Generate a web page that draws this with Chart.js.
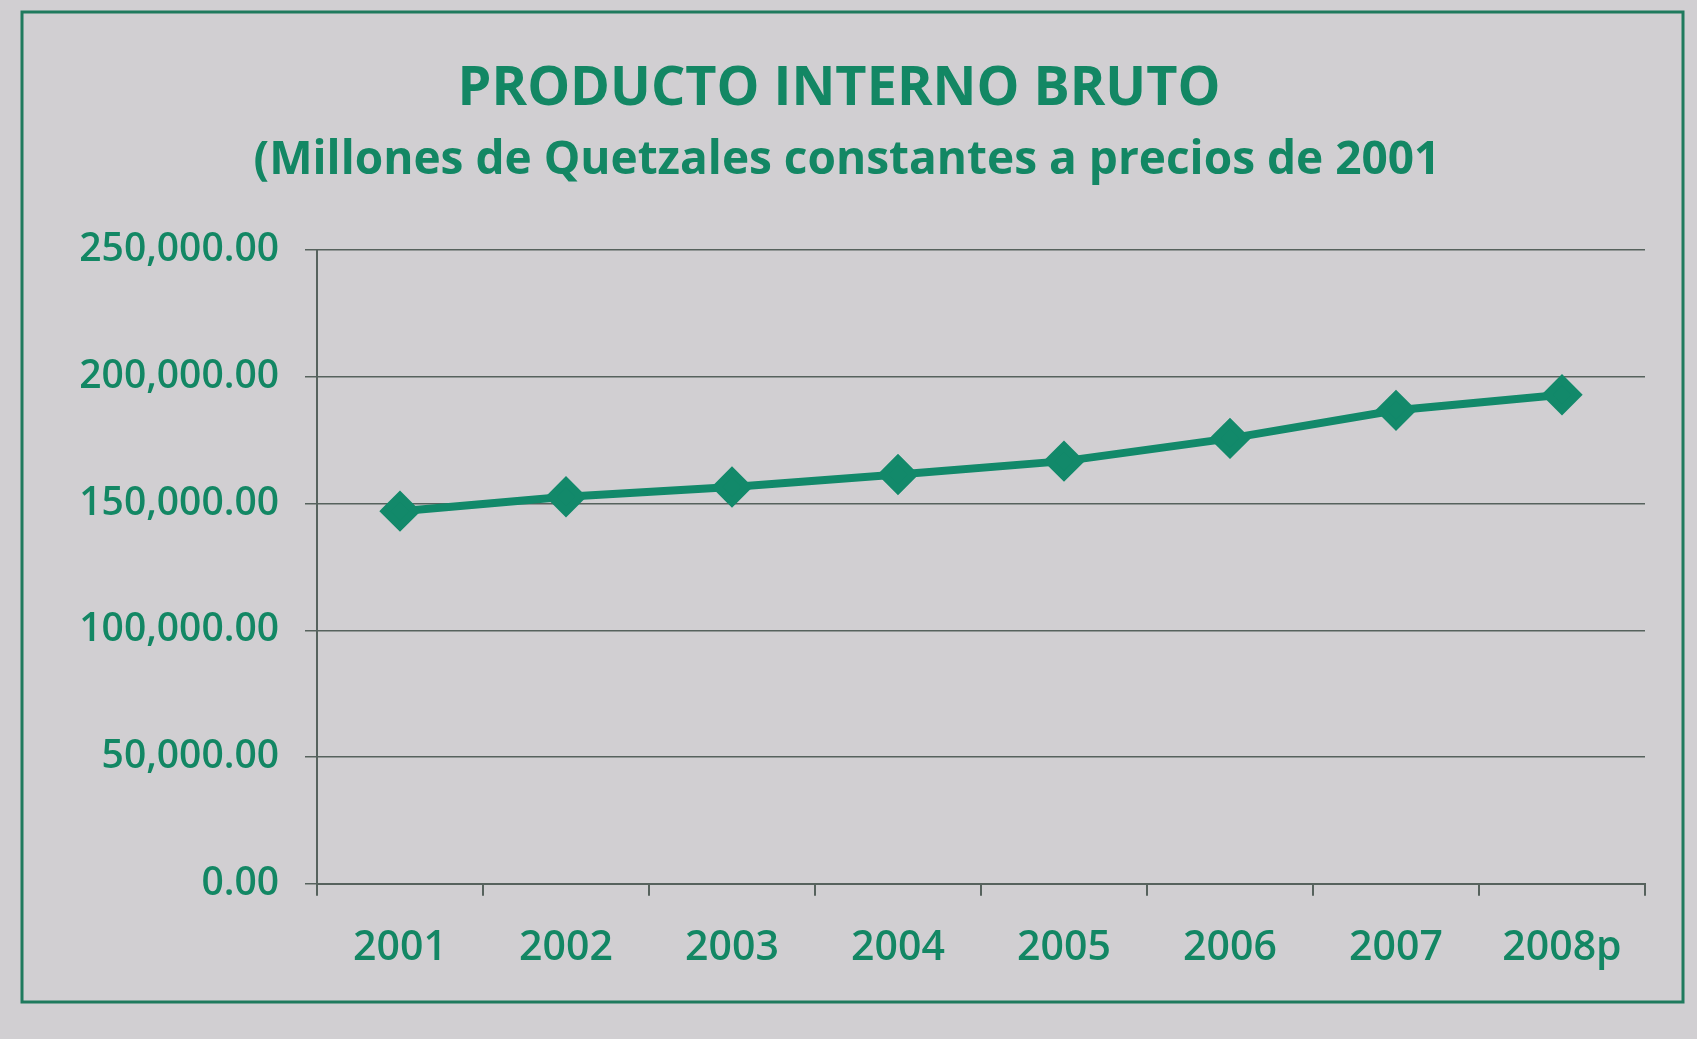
<!DOCTYPE html>
<html>
<head>
<meta charset="utf-8">
<script src="https://cdn.jsdelivr.net/npm/chart.js@4.4.1/dist/chart.umd.min.js"></script>
<style>
  html, body { margin: 0; padding: 0; background: #d1cfd2; }
  #wrap { width: 1697px; height: 1039px; position: relative; }
</style>
</head>
<body>
<div id="wrap"><canvas id="pib"></canvas></div>
<script>
// Datos
const years = ['2001', '2002', '2003', '2004', '2005', '2006', '2007', '2008p'];
const pib = [146977.8, 152660.9, 156524.5, 161457.5, 166722.1, 175691.4, 186765.9, 192894.9];
const yTicks = [0, 50000, 100000, 150000, 200000, 250000];

const green = '#12896a';
const textGreen = '#138764';
const gridGray = '#56625d';

// fondo, marco exterior y títulos
const framePlugin = {
    id: 'frame',
    beforeDraw(chart) {
        const ctx = chart.ctx;
        ctx.save();
        ctx.fillStyle = '#d1cfd2';
        ctx.fillRect(0, 0, chart.width, chart.height);
        ctx.strokeStyle = '#1f7a5d';
        ctx.lineWidth = 3;
        ctx.strokeRect(22, 12, 1661, 990);
        ctx.fillStyle = textGreen;
        ctx.textAlign = 'center';
        ctx.textBaseline = 'middle';
        ctx.font = 'bold 54px "Open Sans"';
        ctx.fillText('PRODUCTO INTERNO BRUTO', 839, 90);
        ctx.font = 'bold 46px "Open Sans"';
        ctx.fillText('(Millones de Quetzales constantes a precios de 2001', 847, 161);
        ctx.restore();
    }
};

new Chart(document.getElementById('pib'), {
    type: 'line',
    data: {
        labels: years,
        datasets: [{
            label: 'PIB',
            data: pib,
            borderColor: green,
            backgroundColor: green,
            borderWidth: 8,
            tension: 0,
            pointStyle: 'rectRot',
            pointRadius: 15,
            pointHoverRadius: 15,
            pointBackgroundColor: green,
            pointBorderColor: green,
            fill: false
        }]
    },
    options: {
        responsive: true,
        maintainAspectRatio: false,
        animation: false,
        layout: { padding: { top: 250, right: 52, bottom: 38, left: 0 } },
        plugins: {
            legend: { display: false },
            tooltip: { enabled: false }
        },
        scales: {
            x: {
                offset: true,
                grid: {
                    offset: true,
                    drawOnChartArea: false,
                    drawTicks: true,
                    tickLength: 12,
                    color: gridGray,
                    lineWidth: 2
                },
                border: { display: true, color: gridGray, width: 2 },
                ticks: {
                    color: textGreen,
                    font: { family: 'Open Sans', size: 41, weight: '600' },
                    padding: 28,
                    maxRotation: 0
                }
            },
            y: {
                min: 0,
                max: 250000,
                afterFit(scale) { scale.width = 317; },
                afterBuildTicks(scale) { scale.ticks = yTicks.map(v => ({ value: v })); },
                grid: {
                    color: gridGray,
                    lineWidth: 1.5,
                    tickLength: 12
                },
                border: { display: true, color: gridGray, width: 2 },
                ticks: {
                    color: textGreen,
                    font: { family: 'Open Sans', size: 39, weight: '600' },
                    padding: 26,
                    callback: v => v.toLocaleString('en-US', { minimumFractionDigits: 2, maximumFractionDigits: 2 })
                }
            }
        }
    },
    plugins: [framePlugin]
});
</script>
</body>
</html>
